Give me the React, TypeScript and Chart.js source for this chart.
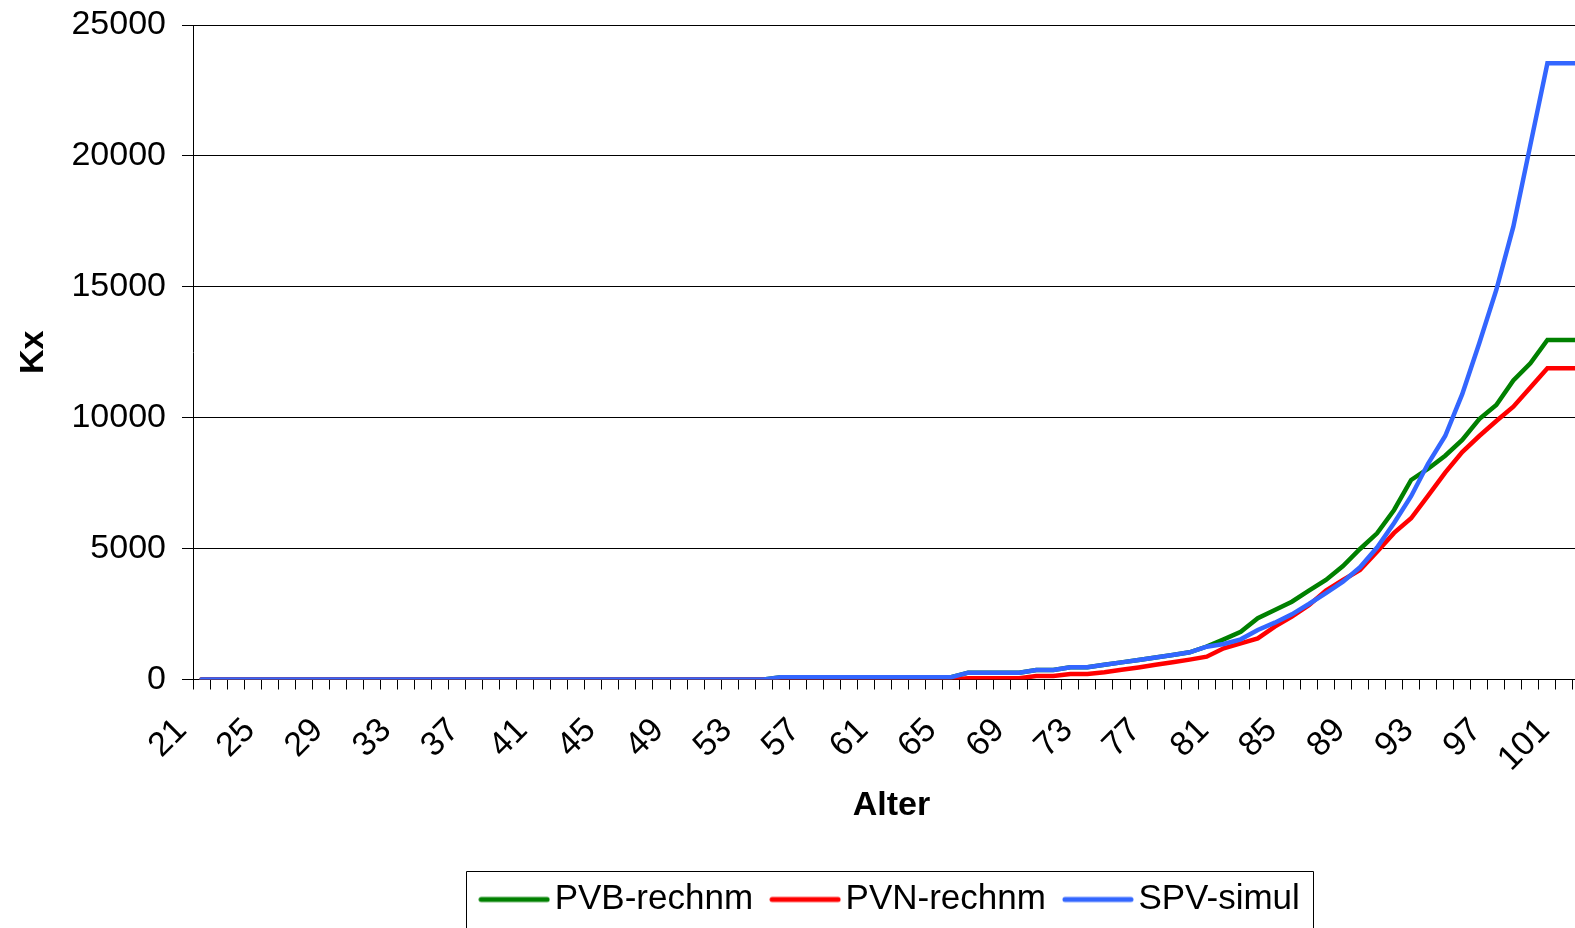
import React, { useEffect, useRef } from 'react';
import { Chart, registerables } from 'chart.js';

Chart.register(...registerables);

const ages = [
  '21', '22', '23', '24', '25', '26', '27', '28', '29', '30',
  '31', '32', '33', '34', '35', '36', '37', '38', '39', '40',
  '41', '42', '43', '44', '45', '46', '47', '48', '49', '50',
  '51', '52', '53', '54', '55', '56', '57', '58', '59', '60',
  '61', '62', '63', '64', '65', '66', '67', '68', '69', '70',
  '71', '72', '73', '74', '75', '76', '77', '78', '79', '80',
  '81', '82', '83', '84', '85', '86', '87', '88', '89', '90',
  '91', '92', '93', '94', '95', '96', '97', '98', '99', '100',
  '101', '102',
];

const xTickLabels = [
  '21', '25', '29', '33', '37', '41', '45', '49', '53', '57', '61',
  '65', '69', '73', '77', '81', '85', '89', '93', '97', '101',
];

const pvbRechnm = [
  0, 0, 0, 0, 0, 0, 0, 0, 0, 0,
  0, 0, 0, 0, 0, 0, 0, 0, 0, 0,
  0, 0, 0, 0, 0, 0, 0, 0, 0, 0,
  0, 0, 0, 0, 85, 85, 85, 85, 85, 85,
  85, 85, 85, 85, 85, 260, 260, 260, 260, 363,
  363, 466, 466, 560, 655, 745, 840, 935, 1040, 1260,
  1535, 1826, 2338, 2655, 2972, 3392, 3801, 4336, 4985, 5585,
  6475, 7621, 8050, 8550, 9150, 9950, 10486, 11420, 12079, 12970,
  12970, 12970,
];

const pvnRechnm = [
  0, 0, 0, 0, 0, 0, 0, 0, 0, 0,
  0, 0, 0, 0, 0, 0, 0, 0, 0, 0,
  0, 0, 0, 0, 0, 0, 0, 0, 0, 0,
  0, 0, 0, 0, 0, 0, 0, 0, 0, 0,
  0, 0, 0, 0, 0, 46, 46, 46, 46, 134,
  134, 210, 210, 280, 370, 460, 560, 660, 760, 872,
  1191, 1383, 1573, 2018, 2400, 2838, 3400, 3801, 4183, 4880,
  5600, 6158, 7020, 7900, 8690, 9300, 9875, 10421, 11150, 11888,
  11888, 11888,
];

const spvSimul = [
  0, 0, 0, 0, 0, 0, 0, 0, 0, 0,
  0, 0, 0, 0, 0, 0, 0, 0, 0, 0,
  0, 0, 0, 0, 0, 0, 0, 0, 0, 0,
  0, 0, 0, 0, 85, 85, 85, 85, 85, 85,
  85, 85, 85, 85, 85, 260, 260, 260, 260, 363,
  363, 466, 466, 560, 655, 745, 840, 935, 1040, 1253,
  1356, 1535, 1890, 2170, 2490, 2884, 3300, 3736, 4286, 5040,
  5980, 7000, 8250, 9300, 10900, 12843, 14879, 17297, 20420, 23540,
  23540, 23540,
];

const yMin = 0;
const yMax = 25000;
const yStep = 5000;

const seriesColors = ['#008000', '#FF0000', '#3366FF'];

const FONT = 'Liberation Sans, Arial, Helvetica, sans-serif';

function makeLegendLine(color: string): HTMLCanvasElement {
  const c = document.createElement('canvas');
  c.width = 72;
  c.height = 8;
  const g = c.getContext('2d');
  if (g) {
    g.strokeStyle = color;
    g.lineWidth = 5;
    g.lineCap = 'round';
    g.beginPath();
    g.moveTo(3, 4);
    g.lineTo(69, 4);
    g.stroke();
  }
  return c;
}

const legendFrame = {
  id: 'legendFrame',
  afterLayout(chart: any) {
    const lg = chart.legend;
    if (lg) {
      lg.left += 4;
      lg.right += 4;
    }
  },
  afterDraw(chart: any) {
    const lg = chart.legend;
    if (!lg || !lg.legendHitBoxes || !lg.legendHitBoxes.length) return;
    const boxes = lg.legendHitBoxes;
    const l = Math.min(...boxes.map((b: any) => b.left)) - 25;
    const r = Math.max(...boxes.map((b: any) => b.left + b.width)) + 13;
    const t = lg.top + 18;
    const ctx = chart.ctx;
    ctx.save();
    ctx.strokeStyle = '#000';
    ctx.lineWidth = 1;
    ctx.beginPath();
    ctx.moveTo(Math.round(l) + 0.5, chart.height + 5);
    ctx.lineTo(Math.round(l) + 0.5, Math.round(t) + 0.5);
    ctx.lineTo(Math.round(r) + 0.5, Math.round(t) + 0.5);
    ctx.lineTo(Math.round(r) + 0.5, chart.height + 5);
    ctx.stroke();
    ctx.restore();
  },
};

export default function App() {
  const ref = useRef<HTMLCanvasElement | null>(null);

  useEffect(() => {
    if (!ref.current) return;
    const mk = (label: string, data: number[], color: string, order: number) => ({
      label,
      data,
      borderColor: color,
      backgroundColor: color,
      borderWidth: 4.5,
      pointRadius: 0,
      pointHoverRadius: 0,
      pointStyle: makeLegendLine(color),
      tension: 0,
      borderCapStyle: 'round' as const,
      order,
    });
    const chart = new Chart(ref.current, {
      type: 'line',
      data: {
        labels: ages,
        datasets: [
          mk('PVB-rechnm', pvbRechnm, seriesColors[0], 3),
          mk('PVN-rechnm', pvnRechnm, seriesColors[1], 2),
          mk('SPV-simul', spvSimul, seriesColors[2], 1),
        ],
      },
      options: {
        animation: false,
        responsive: false,
        devicePixelRatio: 1,
        layout: { padding: { left: 0, right: 0, top: 25, bottom: 1 } },
        plugins: {
          tooltip: { enabled: false },
          legend: {
            position: 'bottom',
            fullSize: false,
            labels: {
              font: { family: FONT, size: 35 },
              color: '#000',
              usePointStyle: true,
              pointStyleWidth: 46,
              padding: 29,
              sort: (a: any, b: any) => a.datasetIndex - b.datasetIndex,
            },
          },
        },
        scales: {
          x: {
            type: 'category',
            offset: true,
            afterFit: (scale: any) => {
              scale.height = 173.5;
              scale.paddingLeft = 0;
              scale.paddingRight = 0;
            },
            grid: {
              display: true,
              drawOnChartArea: false,
              drawTicks: true,
              tickLength: 10,
              offset: true,
              color: '#000',
              lineWidth: 1,
            },
            border: { display: true, color: '#000', width: 1 },
            ticks: {
              autoSkip: false,
              minRotation: 45,
              maxRotation: 45,
              labelOffset: -20,
              padding: 21,
              color: '#000',
              font: { family: FONT, size: 34 },
              callback: function (this: any, value: any, index: number) {
                const lab = ages[index];
                return xTickLabels.includes(lab) ? lab : '';
              },
            },
            title: {
              display: true,
              text: 'Alter',
              color: '#000',
              font: { family: FONT, size: 34, weight: 'bold' },
              padding: { top: 0, bottom: 27 },
            },
          },
          y: {
            min: yMin,
            max: yMax,
            afterFit: (scale: any) => {
              scale.width = 193;
              scale.paddingTop = 0;
              scale.paddingBottom = 0;
            },
            grid: {
              display: true,
              drawOnChartArea: true,
              drawTicks: true,
              tickLength: 11,
              color: '#000',
              lineWidth: 1,
            },
            border: { display: true, color: '#000', width: 1 },
            ticks: {
              stepSize: yStep,
              padding: 16,
              color: '#000',
              font: { family: FONT, size: 34 },
              callback: (v: any) => String(v),
            },
            title: {
              display: true,
              text: 'Kx',
              color: '#000',
              font: { family: FONT, size: 34, weight: 'bold' },
              padding: { top: 13, bottom: 0 },
            },
          },
        },
      },
      plugins: [legendFrame],
    });
    return () => chart.destroy();
  }, []);

  return (
    <div
      style={{
        position: 'absolute',
        left: 0,
        top: 0,
        width: 1575,
        height: 928,
        overflow: 'hidden',
        background: '#fff',
      }}
    >
      <canvas ref={ref} width={1590} height={928} style={{ display: 'block' }} />
    </div>
  );
}
